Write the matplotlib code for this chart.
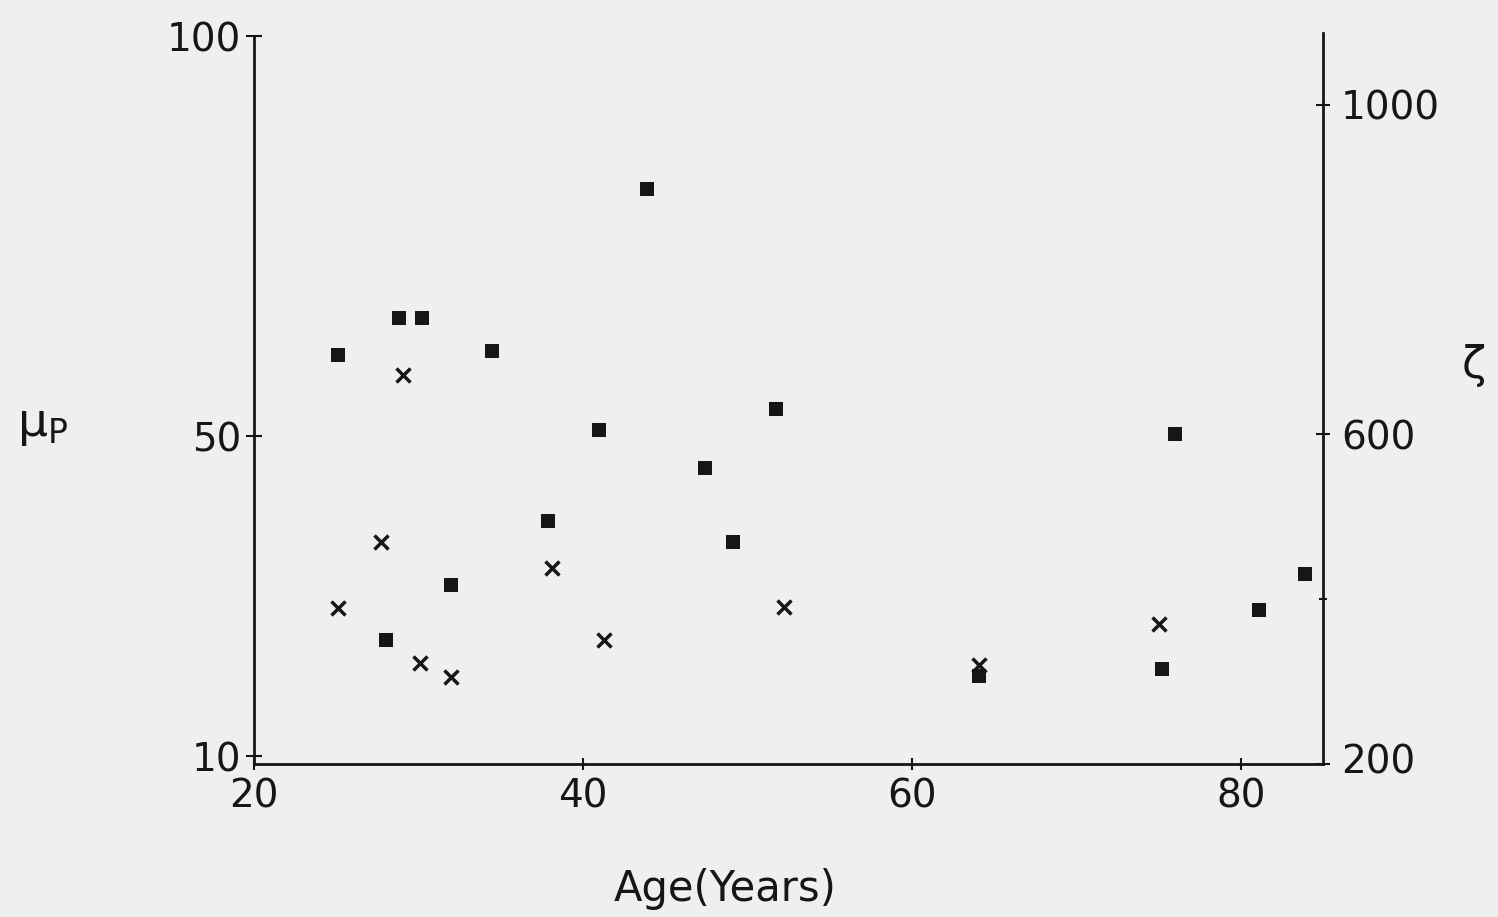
import matplotlib
matplotlib.use("Agg")
from matplotlib import pyplot as plt
from matplotlib.transforms import ScaledTranslation

# values
age_mu = [25.1, 28.0, 28.8, 30.2, 32.0, 34.45, 37.9, 41.0, 43.9, 47.4,
          49.1, 51.7, 64.1, 75.2, 76.0, 81.1, 83.9]
mu_p = [60.1, 24.5, 64.75, 64.75, 31.4, 60.6, 39.4, 50.75, 80.9, 46.0,
        36.75, 53.4, 20.0, 20.9, 50.25, 28.25, 32.75]

age_zeta = [25.1, 27.7, 29.05, 30.1, 32.0, 38.1, 41.3, 52.2, 64.1, 75.0]
zeta = [389, 470, 672, 323, 306, 438, 350, 391, 320, 370]

x_ticks = [20, 40, 60, 80]
mu_ticks = [10, 50, 100]
zeta_ticks = [200, 600, 1000]
zeta_minor = [400]

bg = "#efefef"
ink = "#161616"
fs = 28

fig = plt.figure(figsize=(14.98, 9.17), dpi=100, facecolor=bg)
ax = fig.add_axes([254 / 1498, (917 - 764) / 917, 1069 / 1498, 731 / 917])
ax.set_facecolor(bg)

ax.plot(age_mu, mu_p, linestyle="none", marker="s", markersize=10,
        color=ink, markeredgewidth=0)
ax.set_xlim(20, 84.98)
ax.set_ylim(9, 100.375)

for side in ("top", "right"):
    ax.spines[side].set_visible(False)
ax.spines["left"].set_bounds(9, 100)
for side in ("left", "bottom"):
    ax.spines[side].set_linewidth(2)
    ax.spines[side].set_color(ink)

ax.set_xticks(x_ticks)
ax.set_xticklabels([str(t) for t in x_ticks])
ax.set_yticks(mu_ticks)
ax.set_yticklabels([str(t) for t in mu_ticks])
ax.tick_params(axis="x", direction="inout", length=8, width=1.5,
               color=ink, labelsize=fs, labelcolor=ink, pad=6)
ax.tick_params(axis="y", direction="inout", length=12, width=1.5,
               color=ink, labelsize=fs, labelcolor=ink, pad=3)

ax.set_xlabel("Age(Years)", fontsize=fs + 2, color=ink, ha="center", va="top")
ax.xaxis.set_label_coords(0.4406, -0.142)
ax.set_ylabel(r"μ$_\mathrm{P}$", fontsize=fs + 6, color=ink,
              rotation=0, ha="center", va="center")
ax.yaxis.set_label_coords(-0.198, 0.4637)

ax2 = ax.twinx()
ax2.patch.set_visible(False)
ax2.plot(age_zeta, zeta, linestyle="none", marker="x", markersize=10,
         color=ink, markeredgewidth=2.5)
ax2.set_ylim(200, 1087.4)
for side in ("top", "left", "bottom"):
    ax2.spines[side].set_visible(False)
ax2.spines["right"].set_linewidth(2)
ax2.spines["right"].set_color(ink)
ax2.set_yticks(zeta_ticks)
ax2.set_yticklabels([str(t) for t in zeta_ticks])
ax2.set_yticks(zeta_minor, minor=True)
ax2.tick_params(axis="y", which="major", direction="inout", length=10,
                width=1.5, color=ink, labelsize=fs, labelcolor=ink, pad=8)
ax2.tick_params(axis="y", which="minor", direction="inout", length=6,
                width=1.5, color=ink)
ax2.set_ylabel("ζ", fontsize=fs + 4, color=ink, rotation=0,
               ha="center", va="center")
ax2.yaxis.set_label_coords(1.1413, 0.5445)

# the bottom right label sits a little above the corner in the original
lift = ScaledTranslation(0, 5 / 100, fig.dpi_scale_trans)
for lab in ax2.get_yticklabels():
    if lab.get_text() == "200":
        lab.set_transform(lab.get_transform() + lift)

fig.savefig("out.png", dpi=100, facecolor=bg)
